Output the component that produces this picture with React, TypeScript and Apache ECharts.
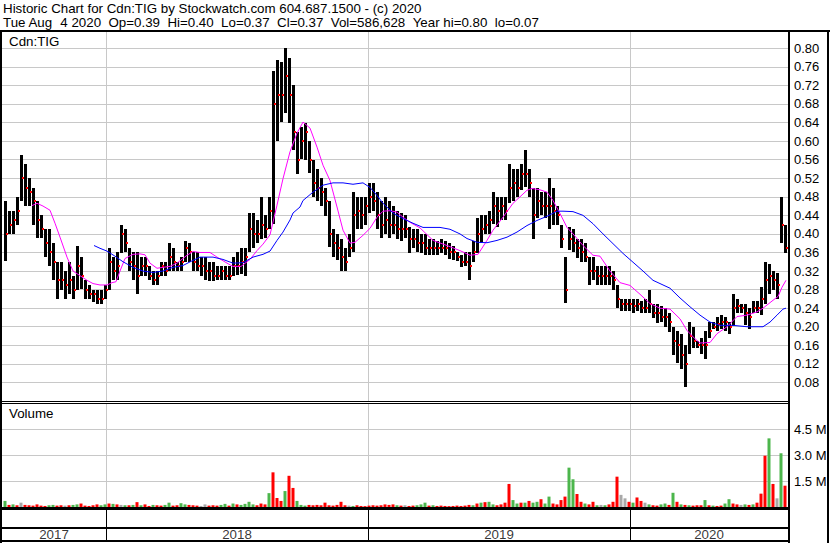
import React, { useEffect, useRef } from "react";
import * as echarts from "echarts";

// ---------- texts ----------
const headerLine1 = "Historic Chart for Cdn:TIG by Stockwatch.com 604.687.1500 - (c) 2020";
const headerLine2 = "Tue Aug  4 2020  Op=0.39  Hi=0.40  Lo=0.37  Cl=0.37  Vol=586,628  Year hi=0.80  lo=0.07";
const symbolLabel = "Cdn:TIG";
const volumeLabel = "Volume";

// ---------- time axis ----------
const SESSIONS = 786; // trading sessions shown
const BIN = 4; // sessions per drawn bar
const yearLabels = ["2017", "2018", "2019", "2020"];
const yearStarts = [104, 366, 628]; // first session of 2018, 2019, 2020

// ---------- price (4-session bars) ----------
const priceHigh = [
  0.47, 0.45, 0.45, 0.48, 0.57, 0.55, 0.52, 0.5, 0.47, 0.44,
  0.41, 0.41, 0.38, 0.34, 0.34, 0.32, 0.34, 0.31, 0.375, 0.35,
  0.3, 0.29, 0.28, 0.28, 0.28, 0.29, 0.37, 0.35, 0.36, 0.42,
  0.41, 0.37, 0.36, 0.36, 0.35, 0.35, 0.33, 0.32, 0.32, 0.34,
  0.34, 0.38, 0.37, 0.34, 0.35, 0.385, 0.38, 0.36, 0.36, 0.35,
  0.35, 0.34, 0.34, 0.33, 0.33, 0.33, 0.33, 0.35, 0.36, 0.37,
  0.37, 0.445, 0.445, 0.43, 0.48, 0.44, 0.48, 0.75, 0.775, 0.77,
  0.8, 0.78, 0.72, 0.62, 0.63, 0.64, 0.6, 0.56, 0.54, 0.52,
  0.5, 0.47, 0.41, 0.4, 0.39, 0.37, 0.4, 0.49, 0.48, 0.48,
  0.48, 0.51, 0.51, 0.49, 0.47, 0.48, 0.47, 0.46, 0.45, 0.445,
  0.44, 0.415, 0.41, 0.41, 0.4, 0.4, 0.39, 0.39, 0.385, 0.39,
  0.385, 0.38, 0.375, 0.36, 0.355, 0.36, 0.36, 0.385, 0.435, 0.44,
  0.44, 0.45, 0.49, 0.48, 0.48, 0.48, 0.55, 0.54, 0.54, 0.55,
  0.58, 0.54, 0.5, 0.5, 0.49, 0.49, 0.52, 0.5, 0.46, 0.42,
  0.35, 0.415, 0.41, 0.39, 0.39, 0.38, 0.35, 0.35, 0.33, 0.33,
  0.33, 0.33, 0.32, 0.29, 0.26, 0.26, 0.26, 0.26, 0.26, 0.255,
  0.26, 0.28, 0.25, 0.25, 0.245, 0.24, 0.23, 0.2, 0.19, 0.185,
  0.16, 0.21, 0.2, 0.17, 0.175, 0.19, 0.21, 0.21, 0.22, 0.225,
  0.22, 0.21, 0.27, 0.26, 0.25, 0.25, 0.24, 0.255, 0.255, 0.285,
  0.34, 0.335, 0.32, 0.315, 0.48, 0.42,
];
const priceLow = [
  0.34, 0.4, 0.4, 0.42, 0.47, 0.46, 0.46, 0.42, 0.39, 0.39,
  0.35, 0.33, 0.3, 0.26, 0.28, 0.26, 0.27, 0.26, 0.28, 0.28,
  0.26, 0.26, 0.255, 0.25, 0.25, 0.26, 0.28, 0.3, 0.3, 0.36,
  0.36, 0.32, 0.3, 0.27, 0.31, 0.31, 0.3, 0.29, 0.29, 0.31,
  0.31, 0.32, 0.32, 0.32, 0.32, 0.34, 0.34, 0.32, 0.32, 0.31,
  0.3, 0.3, 0.3, 0.3, 0.3, 0.3, 0.3, 0.31, 0.31, 0.315,
  0.31, 0.36, 0.37, 0.38, 0.39, 0.39, 0.41, 0.42, 0.6, 0.64,
  0.66, 0.64, 0.58, 0.53, 0.56, 0.56, 0.53, 0.48, 0.47, 0.46,
  0.44, 0.37, 0.35, 0.345, 0.32, 0.32, 0.35, 0.36, 0.41, 0.41,
  0.42, 0.445, 0.45, 0.41, 0.39, 0.4, 0.39, 0.4, 0.39, 0.385,
  0.39, 0.36, 0.37, 0.36, 0.36, 0.355, 0.355, 0.355, 0.355, 0.36,
  0.355, 0.345, 0.345, 0.34, 0.33, 0.33, 0.3, 0.34, 0.36, 0.38,
  0.4, 0.4, 0.42, 0.415, 0.43, 0.43, 0.465, 0.47, 0.48, 0.495,
  0.5, 0.48, 0.39, 0.435, 0.44, 0.435, 0.41, 0.42, 0.42, 0.37,
  0.25, 0.365, 0.36, 0.35, 0.34, 0.34, 0.29, 0.3, 0.29, 0.29,
  0.29, 0.29, 0.28, 0.24, 0.235, 0.235, 0.235, 0.23, 0.235, 0.23,
  0.23, 0.23, 0.22, 0.21, 0.21, 0.2, 0.19, 0.14, 0.12, 0.11,
  0.07, 0.14, 0.155, 0.155, 0.14, 0.13, 0.175, 0.195, 0.19, 0.195,
  0.19, 0.185, 0.2, 0.23, 0.23, 0.205, 0.195, 0.23, 0.23, 0.225,
  0.25, 0.27, 0.28, 0.26, 0.38, 0.36,
];
const priceClose = [
  0.4, 0.42, 0.43, 0.45, 0.52, 0.5, 0.49, 0.47, 0.43, 0.41,
  0.38, 0.36, 0.34, 0.3, 0.3, 0.29, 0.3, 0.28, 0.33, 0.31,
  0.28, 0.27, 0.27, 0.26, 0.26, 0.28, 0.34, 0.32, 0.33, 0.4,
  0.38, 0.34, 0.33, 0.31, 0.33, 0.33, 0.31, 0.3, 0.31, 0.33,
  0.32, 0.35, 0.34, 0.33, 0.34, 0.37, 0.36, 0.34, 0.33, 0.33,
  0.32, 0.32, 0.31, 0.31, 0.32, 0.31, 0.31, 0.33, 0.33, 0.34,
  0.35, 0.41, 0.4, 0.4, 0.42, 0.41, 0.45, 0.68, 0.7, 0.7,
  0.74, 0.7, 0.62, 0.56, 0.6, 0.62, 0.56, 0.51, 0.5, 0.49,
  0.47, 0.4, 0.38, 0.37, 0.35, 0.34, 0.37, 0.44, 0.45, 0.44,
  0.46, 0.48, 0.47, 0.44, 0.42, 0.43, 0.42, 0.42, 0.41, 0.41,
  0.41, 0.39, 0.39, 0.38, 0.38, 0.37, 0.37, 0.37, 0.37, 0.37,
  0.37, 0.36, 0.36, 0.35, 0.34, 0.34, 0.33, 0.36, 0.4, 0.41,
  0.42, 0.43, 0.46, 0.45, 0.46, 0.45, 0.5, 0.51, 0.5, 0.53,
  0.53, 0.51, 0.44, 0.47, 0.46, 0.46, 0.46, 0.45, 0.44, 0.39,
  0.28, 0.39, 0.38, 0.37, 0.36, 0.35, 0.32, 0.32, 0.31, 0.31,
  0.31, 0.31, 0.3, 0.26, 0.25, 0.25, 0.25, 0.245, 0.25, 0.24,
  0.24, 0.25, 0.23, 0.23, 0.22, 0.22, 0.21, 0.17, 0.16, 0.14,
  0.12, 0.18, 0.17, 0.16, 0.16, 0.16, 0.19, 0.2, 0.205, 0.21,
  0.21, 0.2, 0.24, 0.245, 0.24, 0.23, 0.22, 0.24, 0.24, 0.26,
  0.3, 0.31, 0.3, 0.29, 0.42, 0.37,
];

// ---------- volume (millions) ----------
const volume = [
  0.35, 0.12, 0.15, 0.1, 0.25, 0.12, 0.1, 0.08, 0.15, 0.08,
  0.06, 0.1, 0.12, 0.08, 0.1, 0.08, 0.1, 0.12, 0.15, 0.2,
  0.08, 0.06, 0.1, 0.15, 0.1, 0.15, 0.2, 0.18, 0.15, 0.12,
  0.1, 0.1, 0.12, 0.28, 0.1, 0.15, 0.06, 0.12, 0.1, 0.08,
  0.12, 0.25, 0.08, 0.1, 0.22, 0.15, 0.12, 0.1, 0.08, 0.06,
  0.15, 0.08, 0.1, 0.08, 0.12, 0.18, 0.08, 0.2, 0.15, 0.12,
  0.18, 0.3, 0.15, 0.1, 0.2, 0.15, 0.8, 2.0, 0.52, 0.35,
  0.92, 1.8, 1.1, 0.35, 0.12, 0.08, 0.12, 0.1, 0.12, 0.1,
  0.25, 0.1, 0.08, 0.12, 0.3, 0.1, 0.08, 0.06, 0.1, 0.06,
  0.05, 0.08, 0.1, 0.08, 0.1, 0.15, 0.12, 0.15, 0.1, 0.08,
  0.1, 0.06, 0.08, 0.1, 0.15, 0.25, 0.08, 0.1, 0.06, 0.08,
  0.06, 0.05, 0.06, 0.08, 0.06, 0.08, 0.12, 0.1, 0.2, 0.25,
  0.28, 0.3, 0.15, 0.1, 0.15, 0.25, 1.33, 0.4, 0.2, 0.25,
  0.25, 0.35, 0.25, 0.3, 0.45, 0.2, 0.6, 0.2, 0.15, 0.4,
  0.6, 2.27, 1.6, 0.75, 0.3, 0.2, 0.15, 0.3, 0.1, 0.12,
  0.1, 0.15, 0.3, 1.75, 0.7, 0.5, 0.3, 0.25, 0.55, 0.35,
  0.25, 0.15, 0.1, 0.08, 0.15, 0.2, 0.12, 0.82, 0.3, 0.15,
  0.12, 0.1, 0.08, 0.1, 0.1, 0.4, 0.1, 0.08, 0.06, 0.08,
  0.2, 0.45, 0.2, 0.15, 0.12, 0.15, 0.12, 0.15, 0.25, 0.77,
  2.96, 3.96, 1.33, 0.5, 3.1, 1.23,
];
// g = up, r = down, x = unchanged
const volumeDir =
  "grgrxrrrrr" + "rggrrxrggr" + "rrrrggrgrx" + "grgrgrrgrr" + "ggrrggrrrx" +
  "xrrrggrgrg" + "gggrrrgrrr" + "grrgggrrrr" + "rrrrrrxgrr" + "rrrrrrrrgr" +
  "xrrgggrgrr" + "rrrrrrrgrg" + "rggrrrrggr" + "grggrggrrr" + "rggrrgrrgx" +
  "grrrxxrgrr" + "xgrrggrgrg" + "rgrrrgrgrr" + "ggrrxgrgrr" + "rgrxgr";

// ---------- moving averages [session, value] ----------
const maFast = [
  [30, 0.461], [35, 0.466], [41, 0.46], [48, 0.451], [53, 0.423], [58, 0.393], [65, 0.35], [71, 0.32],
  [78, 0.31], [85, 0.3], [91, 0.293], [98, 0.29], [105, 0.29], [110, 0.295], [114, 0.297], [118, 0.32],
  [123, 0.347], [131, 0.356], [138, 0.357], [143, 0.355], [148, 0.337], [155, 0.326], [161, 0.328],
  [168, 0.33], [175, 0.337], [185, 0.354], [191, 0.362], [198, 0.36], [208, 0.36], [215, 0.35],
  [225, 0.337], [231, 0.33], [239, 0.33], [248, 0.345], [255, 0.364], [261, 0.378], [268, 0.398],
  [275, 0.462], [281, 0.519], [288, 0.577], [295, 0.617], [301, 0.641], [308, 0.628], [315, 0.587],
  [321, 0.548], [328, 0.515], [335, 0.458], [341, 0.408], [348, 0.38], [353, 0.382], [361, 0.397],
  [368, 0.412], [375, 0.436], [381, 0.449], [388, 0.45], [395, 0.447], [401, 0.436], [408, 0.425],
  [418, 0.413], [431, 0.386], [445, 0.375], [458, 0.364], [468, 0.354], [476, 0.356], [485, 0.386],
  [491, 0.408], [501, 0.436], [511, 0.466], [518, 0.48], [525, 0.494], [530, 0.498], [538, 0.495],
  [545, 0.49], [551, 0.472], [558, 0.444], [565, 0.414], [571, 0.4], [581, 0.375], [591, 0.354],
  [598, 0.352], [608, 0.32], [618, 0.295], [628, 0.289], [638, 0.27], [648, 0.25], [658, 0.24],
  [668, 0.238], [678, 0.217], [685, 0.192], [693, 0.174], [698, 0.165], [708, 0.166], [715, 0.185],
  [725, 0.2], [735, 0.222], [745, 0.225], [755, 0.232], [761, 0.24], [771, 0.257], [776, 0.265],
  [780, 0.285], [784, 0.3],
];
const maSlow = [
  [92, 0.375], [98, 0.369], [105, 0.363], [113, 0.352], [121, 0.34], [131, 0.328], [141, 0.32],
  [151, 0.317], [161, 0.32], [171, 0.328], [181, 0.332], [191, 0.343], [198, 0.35], [211, 0.35],
  [221, 0.345], [231, 0.337], [241, 0.338], [251, 0.35], [261, 0.356], [268, 0.363], [275, 0.386],
  [281, 0.404], [288, 0.43], [291, 0.445], [298, 0.458], [301, 0.472], [311, 0.49], [321, 0.505],
  [331, 0.51], [341, 0.51], [351, 0.507], [361, 0.51], [368, 0.5], [375, 0.483], [381, 0.466],
  [391, 0.445], [401, 0.433], [411, 0.423], [421, 0.414], [428, 0.414], [438, 0.414], [448, 0.41],
  [458, 0.4], [465, 0.39], [475, 0.382], [485, 0.381], [495, 0.386], [505, 0.393], [515, 0.404],
  [525, 0.418], [535, 0.429], [545, 0.438], [555, 0.449], [561, 0.449], [571, 0.448], [581, 0.44],
  [591, 0.422], [601, 0.4], [611, 0.379], [621, 0.358], [631, 0.339], [641, 0.32], [651, 0.3],
  [658, 0.293], [668, 0.283], [678, 0.262], [688, 0.243], [698, 0.225], [708, 0.21], [718, 0.203],
  [731, 0.203], [745, 0.2], [761, 0.2], [768, 0.21], [775, 0.225], [781, 0.238], [784, 0.24],
];

const priceTickStep = 0.04;
const volumeTickStep = 1.5;

// ---------- styles ----------
const FONT = "'Liberation Sans', Arial, sans-serif";
const HEADER_FONT = `13.33px ${FONT}`;
const GRID_GRAY = "#c8c8c8";
const VOL_COLORS: Record<string, string> = { g: "#4cb64c", r: "#ff0000", x: "#a8a8a8" };

function measure(t: string): number {
  const ctx = document.createElement("canvas").getContext("2d");
  if (!ctx) return t.length * 7;
  ctx.font = HEADER_FONT;
  return ctx.measureText(t).width;
}

function buildOption(): any {
  const binCenter = (i: number) => i * BIN + 3;
  const bars = priceHigh.map((h, i) => [binCenter(i), h, priceLow[i], priceClose[i]]);
  const volData = volume.map((v, i) => ({
    value: [binCenter(i), v],
    itemStyle: { color: VOL_COLORS[volumeDir[i]] },
  }));
  const bounds = [0, ...yearStarts, SESSIONS];
  const yearData = yearLabels.map((lab, k) => [(bounds[k] + bounds[k + 1]) / 2, 6.8, lab]);
  const yearLines = (color: string) => ({
    silent: true,
    z: 1,
    symbol: ["none", "none"],
    label: { show: false },
    emphasis: { disabled: true },
    lineStyle: { color, type: "solid", width: 1, opacity: 1 },
    data: yearStarts.map((s) => ({ xAxis: s + 0.5 })),
  });

  const blackRect = (x: number, y: number, w: number, h: number) => ({
    type: "rect",
    z: 100,
    silent: true,
    shape: { x, y, width: w, height: h },
    style: { fill: "#000" },
  });
  const text = (x: number, y: number, t: string) => ({
    type: "text",
    z: 100,
    silent: true,
    x,
    y,
    style: { text: t, fill: "#000", font: HEADER_FONT, verticalAlign: "middle", align: "left" },
  });

  // header line 2 keeps its double spacing: each group is placed after two space widths
  const groups = headerLine2.split("  ");
  const gap = 2 * measure(" ");
  const line2: any[] = [];
  let gx = 3;
  groups.forEach((g) => {
    line2.push(text(gx, 22.8, g));
    gx += measure(g) + gap;
  });

  return {
    animation: false,
    backgroundColor: "#ffffff",
    textStyle: { fontFamily: FONT },
    grid: [
      { left: 2, top: 31, width: SESSIONS, height: 370 },
      { left: 2, top: 403, width: SESSIONS, height: 104 },
      { left: 2, top: 510, width: SESSIONS, height: 31 },
    ],
    xAxis: [0, 1, 2].map((g) => ({
      type: "value",
      gridIndex: g,
      min: 0,
      max: SESSIONS,
      show: false,
    })),
    yAxis: [
      {
        type: "value",
        gridIndex: 0,
        position: "right",
        min: 0.04,
        max: 0.8372,
        interval: priceTickStep,
        axisLine: { show: false },
        axisTick: { show: false },
        splitLine: { show: true, lineStyle: { color: GRID_GRAY, width: 1 } },
        axisLabel: {
          show: true,
          margin: 6,
          color: "#000",
          fontSize: 13,
          fontFamily: FONT,
          showMinLabel: false,
          showMaxLabel: false,
          formatter: (v: number) => v.toFixed(2),
        },
      },
      {
        type: "value",
        gridIndex: 1,
        position: "right",
        min: 0,
        max: 6,
        interval: volumeTickStep,
        axisLine: { show: false },
        axisTick: { show: false },
        splitLine: { show: true, lineStyle: { color: GRID_GRAY, width: 1 } },
        axisLabel: {
          show: true,
          margin: 6,
          color: "#000",
          fontSize: 13,
          fontFamily: FONT,
          showMinLabel: false,
          showMaxLabel: false,
          formatter: (v: number) => (v <= 0 || v >= 6 ? "" : v.toFixed(1) + " M"),
        },
      },
      { type: "value", gridIndex: 2, min: 0, max: 31, show: false },
    ],
    series: [
      {
        name: "Price",
        type: "custom",
        xAxisIndex: 0,
        yAxisIndex: 0,
        z: 3,
        silent: true,
        encode: { x: 0, y: [1, 2] },
        data: bars,
        renderItem: (_p: any, api: any) => {
          const s = api.value(0);
          const top = api.coord([s, api.value(1)]);
          const bot = api.coord([s, api.value(2)]);
          const cl = api.coord([s, api.value(3)]);
          const x = Math.round(top[0]) - 1;
          return {
            type: "group",
            children: [
              {
                type: "rect",
                shape: { x, y: Math.round(top[1]), width: 3, height: Math.max(1, Math.round(bot[1] - top[1])) },
                style: { fill: "#000" },
              },
              {
                type: "rect",
                shape: { x: x + 2, y: Math.round(cl[1]) - 1, width: 2, height: 2 },
                style: { fill: "#ff0000" },
              },
            ],
          };
        },
      },
      {
        name: "MA short",
        type: "line",
        xAxisIndex: 0,
        yAxisIndex: 0,
        z: 4,
        silent: true,
        showSymbol: false,
        symbol: "none",
        data: maFast,
        lineStyle: { color: "#ff00ff", width: 1 },
        markLine: yearLines(GRID_GRAY),
      },
      {
        name: "MA long",
        type: "line",
        xAxisIndex: 0,
        yAxisIndex: 0,
        z: 4,
        silent: true,
        showSymbol: false,
        symbol: "none",
        data: maSlow,
        lineStyle: { color: "#0000ff", width: 1 },
      },
      {
        name: "Volume",
        type: "bar",
        xAxisIndex: 1,
        yAxisIndex: 1,
        z: 3,
        silent: true,
        barWidth: 3,
        data: volData,
        markLine: yearLines(GRID_GRAY),
      },
      {
        name: "Years",
        type: "scatter",
        xAxisIndex: 2,
        yAxisIndex: 2,
        silent: true,
        symbolSize: 1,
        itemStyle: { color: "transparent" },
        data: yearData,
        label: {
          show: true,
          position: "inside",
          formatter: (p: any) => p.data[2],
          color: "#000",
          fontSize: 13.33,
          fontFamily: FONT,
        },
        markLine: yearLines("#000"),
      },
    ],
    graphic: [
      text(3, 8.8, headerLine1),
      ...line2,
      text(9, 41.3, symbolLabel),
      text(9, 413.3, volumeLabel),
      blackRect(0, 30, 830, 2),
      blackRect(0, 30, 2, 513),
      blackRect(788, 30, 2, 513),
      blackRect(827, 30, 2, 513),
      blackRect(0, 401, 790, 1),
      blackRect(0, 403, 790, 1),
      blackRect(0, 507, 790, 3),
      blackRect(0, 527, 790, 2),
      blackRect(0, 540, 790, 2),
    ],
  };
}

export default function App() {
  const ref = useRef<HTMLDivElement>(null);
  useEffect(() => {
    if (!ref.current) return;
    const chart = echarts.init(ref.current, null, { renderer: "svg" });
    chart.setOption(buildOption());
    return () => chart.dispose();
  }, []);
  return (
    <div
      ref={ref}
      style={{ position: "absolute", left: 0, top: 0, width: 830, height: 543, background: "#fff" }}
    />
  );
}
